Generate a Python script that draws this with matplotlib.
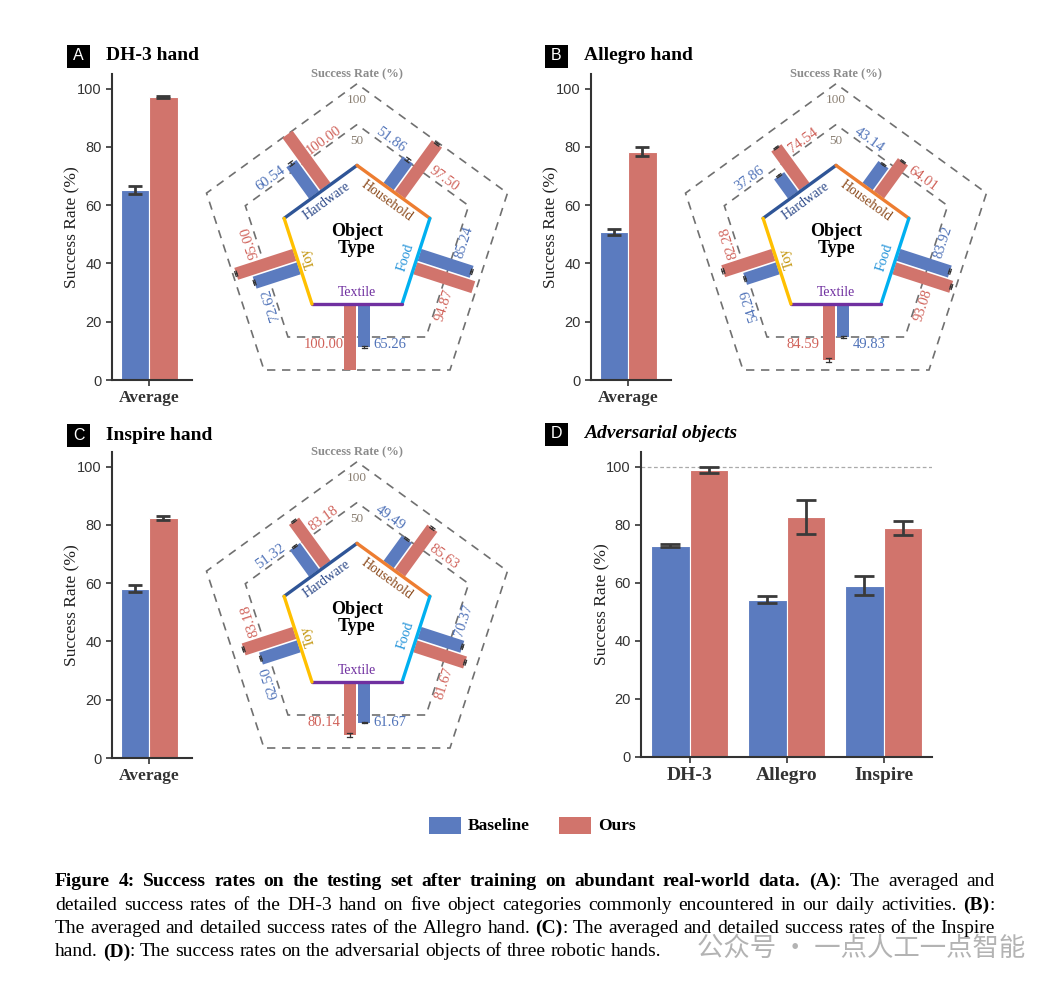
import numpy as np
import matplotlib
matplotlib.use('Agg')
import matplotlib.pyplot as plt
from matplotlib.patches import Rectangle, Polygon

W, H = 1058, 992

BLUE = '#5b7bbf'
RED = '#d1746c'
BLUE_TXT = '#4f72b8'
RED_TXT = '#d0625a'
SERIF = 'Liberation Serif'
SANS = 'Liberation Sans'

# ---- data ----
CATEGORIES = ['Hardware', 'Household', 'Food', 'Textile', 'Toy']
CAT_TXT_COLORS = ['#2f4b8a', '#8b4a1c', '#1a8fd8', '#7030a0', '#c09000']
CAT_EDGE_COLORS = ['#2f5597', '#ed7d31', '#00b0f0', '#7030a0', '#ffc000']

dh3_avg = [65.3, 97.1]
dh3_avg_err = [1.4, 0.5]
allegro_avg = [50.9, 78.3]
allegro_avg_err = [1.0, 1.5]
inspire_avg = [58.0, 82.4]
inspire_avg_err = [1.2, 0.6]

dh3_base = [60.54, 51.86, 85.24, 65.26, 72.62]
dh3_ours = [100.00, 97.50, 94.87, 100.00, 95.00]
dh3_base_err = [2.5, 2.5, 1.2, 1.5, 1.2]
dh3_ours_err = [0.0, 1.2, 0.0, 0.0, 1.2]

allegro_base = [37.86, 43.14, 83.92, 49.83, 54.29]
allegro_ours = [74.54, 64.01, 93.08, 84.59, 82.28]
allegro_base_err = [1.2, 1.0, 1.2, 1.2, 1.2]
allegro_ours_err = [1.0, 1.0, 1.2, 3.0, 1.5]

inspire_base = [51.32, 49.49, 70.37, 61.67, 62.50]
inspire_ours = [83.18, 85.63, 81.67, 80.14, 83.18]
inspire_base_err = [1.2, 1.2, 1.2, 1.2, 1.0]
inspire_ours_err = [1.2, 1.5, 1.2, 3.0, 1.2]

adv_hands = ['DH-3', 'Allegro', 'Inspire']
adv_base = [72.7, 54.2, 59.0]
adv_base_err = [0.5, 1.3, 3.4]
adv_ours = [98.8, 82.6, 78.9]
adv_ours_err = [1.2, 5.8, 2.5]

series_names = ['Baseline', 'Ours']

# ---- radar geometry (pixels) ----
NORMALS = np.deg2rad([126, 54, -18, -90, 198])
A0 = 62.0        # apothem of inner pentagon
SCALE = 0.66     # px per percent
BAR_W = 12.5
GAP = 0.8
LBL_R = 102
LBL_S = 33

fig = plt.figure(figsize=(W / 100, H / 100), dpi=100)
ov = fig.add_axes([0, 0, 1, 1])
ov.set_xlim(0, W)
ov.set_ylim(H, 0)
ov.axis('off')


def px_rect(x0, y0, x1, y1):
    return [x0 / W, 1 - y1 / H, (x1 - x0) / W, (y1 - y0) / H]


def pt(cx, cy, th, r, s):
    return (cx + r * np.cos(th) + s * np.sin(th),
            cy - r * np.sin(th) + s * np.cos(th))


def radial(v):
    return A0 + v * SCALE


def pentagon(cx, cy, a):
    R = a / np.cos(np.deg2rad(36))
    ang = np.deg2rad(90 + 72 * np.arange(5))
    return np.column_stack([cx + R * np.cos(ang), cy - R * np.sin(ang)])


def text_rot(th):
    r = (np.degrees(th) + 90) % 360
    if r > 90:
        r -= 180
    if r <= -90:
        r += 180
    return r


def draw_radar(cx, cy, base, ours, base_err, ours_err):
    # dashed guide pentagons
    for v in (50, 100):
        poly = pentagon(cx, cy, radial(v))
        ov.add_patch(Polygon(poly, closed=True, fill=False, ec='#707070',
                             lw=1.2, ls=(0, (5, 4)), zorder=1))
        R = radial(v) / np.cos(np.deg2rad(36))
        ov.text(cx, cy - R + 16, str(v), ha='center', va='center',
                fontsize=9.5, family=SERIF, color='#8a7f72', zorder=2)
    ov.text(cx, cy - 168, 'Success Rate (%)', ha='center', va='center',
            fontsize=9, family=SERIF, fontweight='bold', color='#8c8c8c')

    tan36 = np.tan(np.deg2rad(36))
    for i, th in enumerate(NORMALS):
        rot = text_rot(th)
        # inner edge
        p1 = pt(cx, cy, th, A0, A0 * tan36)
        p2 = pt(cx, cy, th, A0, -A0 * tan36)
        ov.plot([p1[0], p2[0]], [p1[1], p2[1]], color=CAT_EDGE_COLORS[i],
                lw=2.4, solid_capstyle='round', zorder=4)
        c = pt(cx, cy, th, 51, 0)
        ov.text(c[0], c[1], CATEGORIES[i], rotation=rot, rotation_mode='anchor',
                ha='center', va='center', fontsize=10, family=SERIF,
                color=CAT_TXT_COLORS[i], zorder=5)
        for val, err, sign, col, tcol in ((ours[i], ours_err[i], 1, RED, RED_TXT),
                                          (base[i], base_err[i], -1, BLUE, BLUE_TXT)):
            s0, s1 = sign * GAP, sign * (GAP + BAR_W)
            r1 = radial(val)
            corners = [pt(cx, cy, th, A0 + 1.5, s0), pt(cx, cy, th, A0 + 1.5, s1),
                       pt(cx, cy, th, r1, s1), pt(cx, cy, th, r1, s0)]
            ov.add_patch(Polygon(corners, closed=True, fc=col, ec='none', zorder=3))
            sc = (s0 + s1) / 2
            if err > 0:
                a = pt(cx, cy, th, radial(val - err), sc)
                b = pt(cx, cy, th, radial(val + err), sc)
                ov.plot([a[0], b[0]], [a[1], b[1]], color='#333333', lw=0.9, zorder=4)
                for rr in (val - err, val + err):
                    q1 = pt(cx, cy, th, radial(rr), sc - 2.5)
                    q2 = pt(cx, cy, th, radial(rr), sc + 2.5)
                    ov.plot([q1[0], q2[0]], [q1[1], q2[1]], color='#333333',
                            lw=0.9, zorder=4)
            lp = pt(cx, cy, th, LBL_R, sign * LBL_S)
            ov.text(lp[0], lp[1], f'{val:.2f}', rotation=rot, rotation_mode='anchor',
                    ha='center', va='center', fontsize=10.5, family=SERIF,
                    color=tcol, zorder=5)
    ov.text(cx, cy - 2, 'Object\nType', ha='center', va='center', fontsize=13,
            family=SERIF, fontweight='bold', linespacing=1.05, zorder=5)


def style_axes(ax):
    for side in ('top', 'right'):
        ax.spines[side].set_visible(False)
    for side in ('left', 'bottom'):
        ax.spines[side].set_linewidth(1.5)
        ax.spines[side].set_color('#333333')
    ax.tick_params(axis='both', length=4, width=1.2, color='#333333',
                   labelcolor='#333333')
    for lab in ax.get_yticklabels():
        lab.set_family(SANS)
        lab.set_fontsize(10.5)
    ax.set_facecolor('none')


def avg_panel(x0, y0, vals, errs):
    ax = fig.add_axes(px_rect(x0, y0, x0 + 80, y0 + 306))
    xs = np.array([0.0])
    for k, (v, e, col) in enumerate(zip(vals, errs, (BLUE, RED))):
        off = -0.2 if k == 0 else 0.2
        ax.bar(xs + off, [v], 0.4, color=col, edgecolor='white', lw=0.8, zorder=2)
        ax.errorbar(xs + off, [v], yerr=[e], fmt='none', ecolor='#3a3a3a',
                    elinewidth=2, capsize=5, capthick=2, zorder=3)
    ax.set_xlim(-0.52, 0.6)
    ax.set_ylim(0, 105)
    ax.set_yticks([0, 20, 40, 60, 80, 100])
    ax.set_xticks([0])
    ax.set_xticklabels(['Average'], family=SERIF, fontweight='bold', fontsize=12.5)
    ax.set_ylabel('Success Rate (%)', family=SERIF, fontsize=12.5, color='#222222')
    ax.yaxis.set_label_coords(-0.4, 0.5)
    style_axes(ax)
    return ax


def panel_title(x, y, letter, title, italic=False):
    ov.add_patch(Rectangle((x, y - 11.5), 23, 23, fc='black', ec='none'))
    ov.text(x + 11.5, y, letter, ha='center', va='center', color='white',
            fontsize=11.5, family=SANS)
    ov.text(x + 39, y, title, ha='left', va='center', fontsize=14,
            family=SERIF, fontweight='bold', style='italic' if italic else 'normal')


# ---- panels A, B, C ----
avg_panel(112, 74, dh3_avg, dh3_avg_err)
avg_panel(591, 74, allegro_avg, allegro_avg_err)
avg_panel(112, 452, inspire_avg, inspire_avg_err)

draw_radar(357, 242, dh3_base, dh3_ours, dh3_base_err, dh3_ours_err)
draw_radar(836, 242, allegro_base, allegro_ours, allegro_base_err, allegro_ours_err)
draw_radar(357, 620, inspire_base, inspire_ours, inspire_base_err, inspire_ours_err)

panel_title(67, 56, 'A', 'DH-3 hand')
panel_title(545, 56, 'B', 'Allegro hand')
panel_title(67, 435, 'C', 'Inspire hand')
panel_title(545, 434, 'D', 'Adversarial objects', italic=True)

# ---- panel D ----
axd = fig.add_axes(px_rect(641, 452, 932, 757))
x = np.arange(len(adv_hands))
axd.axhline(100, color='#aaaaaa', lw=0.9, ls=(0, (3, 2)), zorder=1)
axd.bar(x - 0.2, adv_base, 0.4, color=BLUE, edgecolor='white', lw=0.8, zorder=2)
axd.bar(x + 0.2, adv_ours, 0.4, color=RED, edgecolor='white', lw=0.8, zorder=2)
axd.errorbar(x - 0.2, adv_base, yerr=adv_base_err, fmt='none', ecolor='#3a3a3a',
             elinewidth=2, capsize=7, capthick=2, zorder=3)
axd.errorbar(x + 0.2, adv_ours, yerr=adv_ours_err, fmt='none', ecolor='#3a3a3a',
             elinewidth=2, capsize=7, capthick=2, zorder=3)
axd.set_xlim(-0.5, 2.5)
axd.set_ylim(0, 105)
axd.set_yticks([0, 20, 40, 60, 80, 100])
axd.set_xticks(x)
axd.set_xticklabels(adv_hands, family=SERIF, fontweight='bold', fontsize=14)
axd.set_ylabel('Success Rate (%)', family=SERIF, fontsize=12.5, color='#222222')
axd.yaxis.set_label_coords(-0.105, 0.5)
style_axes(axd)

# ---- legend ----
for (lx, name, col) in ((429, series_names[0], BLUE), (559, series_names[1], RED)):
    ov.add_patch(Rectangle((lx, 817), 32, 17, fc=col, ec='none'))
    ov.text(lx + 39, 825.5, name, ha='left', va='center', fontsize=12.5,
            family=SERIF, fontweight='bold')

# ---- caption (justified) ----
caption = [
    ([('Figure 4: Success rates on the testing set after training on abundant real-world data.', 'bold'),
      (' (A)', 'bold'), (': The averaged and', 'normal')], True),
    ([('detailed success rates of the DH-3 hand on five object categories commonly encountered in our daily activities.', 'normal'),
      (' (B)', 'bold'), (':', 'normal')], True),
    ([('The averaged and detailed success rates of the Allegro hand.', 'normal'),
      (' (C)', 'bold'), (': The averaged and detailed success rates of the Inspire', 'normal')], True),
    ([('hand.', 'normal'), (' (D)', 'bold'),
      (': The success rates on the adversarial objects of three robotic hands.', 'normal')], False),
]

renderer = fig.canvas.get_renderer()
CAP_SIZE = 14
CAP_X0, CAP_X1 = 55, 995


def split_words(runs):
    words = []
    for text, weight in runs:
        parts = text.split(' ')
        for k, p in enumerate(parts):
            if k == 0 and words and not text.startswith(' '):
                if p:
                    words[-1].append((p, weight))
            elif p:
                words.append([(p, weight)])
    return words


def measure(s, weight, size):
    t = ov.text(0, 0, s, fontsize=size, family=SERIF, fontweight=weight)
    w = t.get_window_extent(renderer=renderer).width
    t.remove()
    return w


# shrink the font if a justified line would not fit
size = CAP_SIZE
while True:
    space_w = measure('x x', 'normal', size) - measure('xx', 'normal', size)
    ok = True
    for runs, justify in caption:
        words = split_words(runs)
        total = sum(measure(p, w, size) for word in words for p, w in word)
        if total + space_w * 0.8 * (len(words) - 1) > CAP_X1 - CAP_X0:
            ok = False
    if ok or size < 10:
        break
    size -= 0.25

for li, (runs, justify) in enumerate(caption):
    yb = 886 + li * 23.5
    words = split_words(runs)
    widths = [[measure(p, w, size) for p, w in word] for word in words]
    total = sum(sum(ws) for ws in widths)
    gap = space_w
    if justify and len(words) > 1:
        gap = (CAP_X1 - CAP_X0 - total) / (len(words) - 1)
    xc = CAP_X0
    for word, ws in zip(words, widths):
        for (p, w), pw in zip(word, ws):
            ov.text(xc, yb, p, fontsize=size, family=SERIF, fontweight=w,
                    va='baseline', ha='left')
            xc += pw
        xc += gap

# watermark
ov.text(1025, 948, '公众号 · 一点人工一点智能', ha='right', va='center', fontsize=19,
        family=['Noto Sans CJK SC', 'DejaVu Sans'], color='#9a9a9a', alpha=0.75,
        zorder=10)

fig.savefig('out.png', dpi=100)
